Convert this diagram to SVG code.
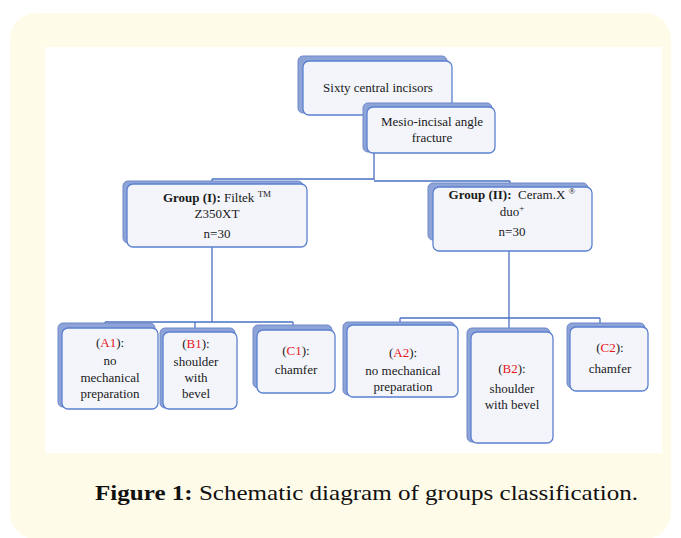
<svg xmlns="http://www.w3.org/2000/svg" width="681" height="538" viewBox="0 0 681 538">
<style>
.bk{fill:#8ea4d8;stroke:#6f88c8;stroke-width:1}
.fr{fill:#f3f5fb;stroke:#5b80d0;stroke-width:1.3}
.t{font-family:"Liberation Serif","Times New Roman",serif;font-size:13px;fill:#1a1a1a;text-anchor:middle}
.b{font-weight:bold}
.r{fill:#e8141a}
.c{fill:none;stroke:#4a72c4;stroke-width:1.3}
</style>
<rect x="10" y="13" width="661" height="526" rx="26" fill="#fffbe9"/>
<rect x="45" y="47" width="617" height="406" fill="#ffffff"/>
<g id="connectors">
<path class="c" d="M374,153V180M212,179H374M374,181H510M212,179V190M510,181V192"/>
<path class="c" d="M212,246V322M105,322H293M105,322V330M195,322V335M293,322V332"/>
<path class="c" d="M509,251V318M400,318H600M400,318V326M509,318V332M600,318V328"/>
</g>
<g id="n-sixty">
<rect class="bk" x="298" y="56" width="149" height="57" rx="5"/>
<rect class="fr" x="303" y="61" width="149" height="54" rx="6"/>
<text class="t" x="378" y="92">Sixty central incisors</text>
</g>
<g id="n-fracture">
<rect class="bk" x="363" y="103" width="129" height="49" rx="5"/>
<rect class="fr" x="367" y="107" width="128" height="46" rx="6"/>
<text class="t" x="432" y="126">Mesio-incisal angle</text>
<text class="t" x="432" y="142">fracture</text>
</g>
<g id="n-group1">
<rect class="bk" x="123" y="181" width="180" height="62" rx="5"/>
<rect class="fr" x="127" y="184" width="180" height="63" rx="6"/>
<text class="t" x="217" y="202"><tspan class="b">Group (I):</tspan> Filtek <tspan font-size="9" dy="-5">TM</tspan></text>
<text class="t" x="217" y="218">Z350XT</text>
<text class="t" x="217" y="238">n=30</text>
</g>
<g id="n-group2">
<rect class="bk" x="428" y="183" width="160" height="57" rx="5"/>
<rect class="fr" x="433" y="187" width="159" height="64" rx="6"/>
<text class="t" x="512" y="199"><tspan class="b">Group (II):</tspan>&#160; Ceram.X <tspan font-size="9" dy="-5">®</tspan></text>
<text class="t" x="512" y="216">duo<tspan font-size="9" dy="-5">+</tspan></text>
<text class="t" x="512" y="236">n=30</text>
</g>
<g id="n-a1">
<rect class="bk" x="58" y="323" width="97" height="84" rx="5"/>
<rect class="fr" x="62" y="328" width="96" height="81" rx="6"/>
<text class="t" x="110" y="347">(<tspan class="r">A1</tspan>):</text>
<text class="t" x="110" y="365">no</text>
<text class="t" x="110" y="382">mechanical</text>
<text class="t" x="110" y="398">preparation</text>
</g>
<g id="n-b1">
<rect class="bk" x="160" y="328" width="75" height="80" rx="5"/>
<rect class="fr" x="163" y="332" width="74" height="77" rx="6"/>
<text class="t" x="196" y="348">(<tspan class="r">B1</tspan>):</text>
<text class="t" x="196" y="366">shoulder</text>
<text class="t" x="196" y="382">with</text>
<text class="t" x="196" y="398">bevel</text>
</g>
<g id="n-c1">
<rect class="bk" x="253" y="325" width="79" height="63" rx="5"/>
<rect class="fr" x="257" y="330" width="78" height="63" rx="6"/>
<text class="t" x="296" y="355">(<tspan class="r">C1</tspan>):</text>
<text class="t" x="296" y="374">chamfer</text>
</g>
<g id="n-a2">
<rect class="bk" x="343" y="322" width="112" height="73" rx="5"/>
<rect class="fr" x="347" y="325" width="111" height="72" rx="6"/>
<text class="t" x="403" y="357">(<tspan class="r">A2</tspan>):</text>
<text class="t" x="403" y="375">no mechanical</text>
<text class="t" x="403" y="391">preparation</text>
</g>
<g id="n-b2">
<rect class="bk" x="467" y="328" width="83" height="114" rx="5"/>
<rect class="fr" x="471" y="332" width="82" height="111" rx="6"/>
<text class="t" x="512" y="373">(<tspan class="r">B2</tspan>):</text>
<text class="t" x="512" y="393">shoulder</text>
<text class="t" x="512" y="409">with bevel</text>
</g>
<g id="n-c2">
<rect class="bk" x="567" y="323" width="78" height="65" rx="5"/>
<rect class="fr" x="570" y="327" width="78" height="64" rx="6"/>
<text class="t" x="610" y="352">(<tspan class="r">C2</tspan>):</text>
<text class="t" x="610" y="373">chamfer</text>
</g>
<text x="95" y="500" font-family="'Liberation Serif','Times New Roman',serif" font-size="21" fill="#111" textLength="543" lengthAdjust="spacingAndGlyphs"><tspan font-weight="bold">Figure 1:</tspan> Schematic diagram of groups classification.</text>
</svg>
